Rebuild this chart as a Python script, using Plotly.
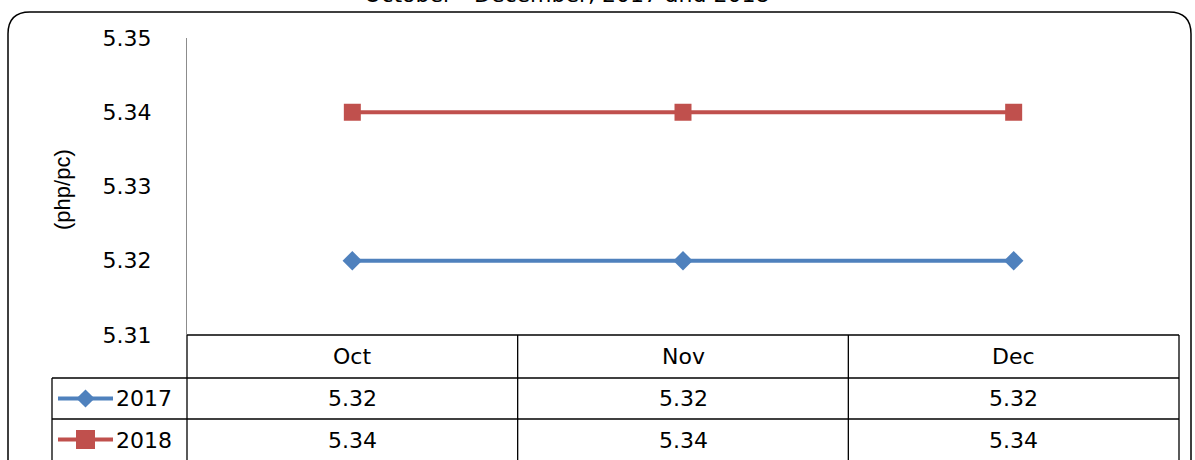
import plotly.graph_objects as go

months = ["Oct", "Nov", "Dec"]
series_names = ["2017", "2018"]
values_2017 = [5.32, 5.32, 5.32]
values_2018 = [5.34, 5.34, 5.34]
y_ticks = [5.31, 5.32, 5.33, 5.34, 5.35]
title_text = "October - December, 2017 and 2018"
y_title = "(php/pc)"

W, H = 1195, 460
BLUE = "#4F81BD"
RED = "#C0504D"
FONT = "DejaVu Sans"
FS = 22

def px(x):
    return x / W

def py(y):
    return 1 - y / H

# pixel geometry
PL, PR, PT, PB = 187, 1179, 38, 335
ROW1, ROW2, BOT = 378, 419, 470
LEG_L = 52

fig = go.Figure()
series = [(series_names[0], values_2017, BLUE, "diamond", 15),
          (series_names[1], values_2018, RED, "square", 17)]
for name, vals, col, sym, sz in series:
    fig.add_trace(go.Scatter(x=months, y=vals, mode="lines+markers", name=name,
                             line=dict(color=col, width=4),
                             marker=dict(symbol=sym, size=sz, color=col),
                             showlegend=False, xaxis="x", yaxis="y"))

# legend keys inside table column
leg_rows = [1.5, 0.5]
leg_sizes = [14, 19]
for (name, vals, col, sym, sz), yy, lsz in zip(series, leg_rows, leg_sizes):
    fig.add_trace(go.Scatter(x=[0, 1], y=[yy, yy], mode="lines",
                             line=dict(color=col, width=4),
                             showlegend=False, xaxis="x2", yaxis="y2",
                             cliponaxis=False, hoverinfo="skip"))
    fig.add_trace(go.Scatter(x=[0.5], y=[yy], mode="markers",
                             marker=dict(symbol=sym, size=lsz, color=col, opacity=1),
                             showlegend=False, xaxis="x2", yaxis="y2",
                             cliponaxis=False, hoverinfo="skip"))

shapes = []
line_black = dict(color="black", width=1.3)
def hline(x0, x1, y):
    shapes.append(dict(type="line", xref="paper", yref="paper", x0=px(x0), x1=px(x1),
                       y0=py(y), y1=py(y), line=line_black))
def vline(x, y0, y1):
    shapes.append(dict(type="line", xref="paper", yref="paper", x0=px(x), x1=px(x),
                       y0=py(y0), y1=py(y1), line=line_black))

hline(PL, PR, PB)
hline(LEG_L, PR, ROW1)
hline(LEG_L, PR, ROW2)
cell_w = (PR - PL) / 3
for i in range(4):
    vline(PL + i * cell_w, PB, BOT)
vline(LEG_L, ROW1, BOT)

# rounded outer border
r = 22
L, R, T = 8, 1191, 12
path = (f"M {px(L)},{py(BOT)} L {px(L)},{py(T + r)} Q {px(L)},{py(T)} {px(L + r)},{py(T)} "
        f"L {px(R - r)},{py(T)} Q {px(R)},{py(T)} {px(R)},{py(T + r)} L {px(R)},{py(BOT)}")
shapes.append(dict(type="path", xref="paper", yref="paper", path=path,
                   line=dict(color="black", width=1.5)))

annotations = []
tf = dict(family=FONT, size=FS, color="black")
def ann(x, y, text, xref="paper", xanchor="center", **kw):
    annotations.append(dict(x=x, xref=xref, y=y, yref="paper", text=text, showarrow=False,
                            xanchor=xanchor, yanchor="middle", **kw))

for m in months:
    ann(m, py((PB + ROW1) / 2), m, xref="x", font=tf)
for vals, (y0, y1) in zip([values_2017, values_2018], [(ROW1, ROW2), (ROW2, H + 2)]):
    for m, v in zip(months, vals):
        ann(m, py((y0 + y1) / 2), f"{v:.2f}", xref="x", font=tf)
for name, y0, y1 in [(series_names[0], ROW1, ROW2), (series_names[1], ROW2, H + 2)]:
    ann(px(114), py((y0 + y1) / 2), name, xanchor="left", font=tf)
ann(px(62), py(190), y_title, textangle=-90,
    font=dict(family="Liberation Sans", size=22, color="black"))
# chart title, cut off at the top edge as in the original
ann(px(566), py(-5), title_text, font=tf)

fig.update_layout(
    width=W, height=H,
    margin=dict(l=0, r=0, t=0, b=0, autoexpand=False),
    paper_bgcolor="white", plot_bgcolor="white",
    xaxis=dict(domain=[px(PL), px(PR)], range=[-0.5, 2.5], type="category", automargin=False,
               showticklabels=False, showgrid=False, zeroline=False, showline=False, ticks=""),
    yaxis=dict(domain=[py(PB), py(PT)], range=[5.31, 5.35], tickvals=y_ticks, automargin=False,
               ticktext=[f"{t:.2f}" for t in y_ticks], showgrid=False, zeroline=False,
               showline=True, linecolor="#8c8c8c", linewidth=1.3, ticks="",
               ticklabelstandoff=30, tickfont=tf),
    xaxis2=dict(domain=[px(58), px(113)], range=[0, 1], visible=False, anchor="y2", automargin=False),
    yaxis2=dict(domain=[0, py(ROW1)], range=[0, 2], visible=False, anchor="x2", automargin=False),
    shapes=shapes, annotations=annotations,
)

fig.write_html("out.html", config={"displayModeBar": False},
               post_script="document.body.style.margin='0';")
